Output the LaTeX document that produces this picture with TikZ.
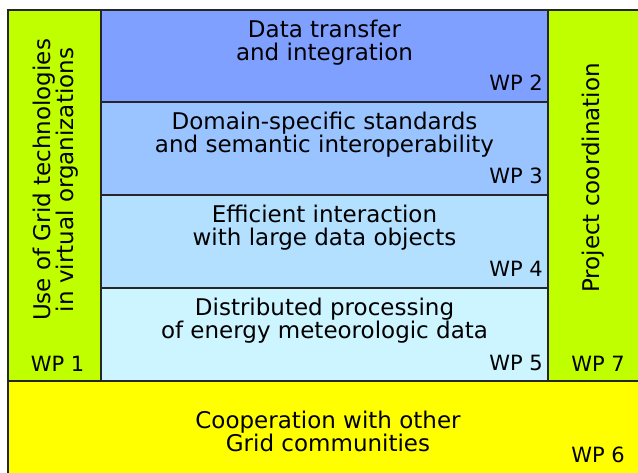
\documentclass[tikz,border=0pt]{standalone}
\usepackage{fontspec}
\setmainfont{DejaVu Sans}
\definecolor{wpgreen}{RGB}{191,255,0}
\definecolor{wpyellow}{RGB}{255,255,0}
\definecolor{wpblueA}{RGB}{128,160,255}
\definecolor{wpblueB}{RGB}{153,196,255}
\definecolor{wpblueC}{RGB}{179,224,255}
\definecolor{wpblueD}{RGB}{204,245,255}
\tikzset{
        box/.style={draw=black!85, line width=2pt, rectangle, inner sep=0pt},
        title/.style={align=center, inner sep=0pt, font=\fontsize{23}{23}\selectfont},
        wp/.style={inner sep=0pt, font=\fontsize{21}{23}\selectfont}
    }

\begin{document}
\begin{tikzpicture}[x=1pt, y=1pt]
            \useasboundingbox (0,0) rectangle (638,472);
            \fill [white] (0,0) rectangle (638,472);

            \node [box, fill=wpgreen, minimum width=93, minimum height=371] (wp1) at (54.5, 276.5) {};
            \node [box, fill=wpblueA, minimum width=447, minimum height=92] (wp2) at (324.5, 416) {};
            \node [box, fill=wpblueB, minimum width=447, minimum height=93] (wp3) at (324.5, 323.5) {};
            \node [box, fill=wpblueC, minimum width=447, minimum height=93] (wp4) at (324.5, 230.5) {};
            \node [box, fill=wpblueD, minimum width=447, minimum height=93] (wp5) at (324.5, 137.5) {};
            \node [box, fill=wpgreen, minimum width=100, minimum height=371] (wp7) at (598, 276.5) {};
            \node [box, fill=wpyellow, minimum width=640, minimum height=100] (wp6) at (328, 41) {};

            \node [title, rotate=90] (t1) at (56, 292) {Use of Grid technologies\\in virtual organizations};
            \node [title] (t2) at (324.5, 429) {Data transfer\\and integration};
            \node [title] (t3) at (324.5, 337) {Domain-specific standards\\and semantic interoperability};
            \node [title] (t4) at (324.5, 244) {Efficient interaction\\with large data objects};
            \node [title] (t5) at (324.5, 151) {Distributed processing\\of energy meteorologic data};
            \node [title, rotate=90] (t7) at (593, 294) {Project coordination};
            \node [title] (t6) at (328, 41) {Cooperation with other\\Grid communities};

            \node [wp, anchor=base] (l1) at (57.5, 100) {WP 1};
            \node [wp, anchor=base east] (l2) at (543, 381) {WP 2};
            \node [wp, anchor=base east] (l3) at (543, 288) {WP 3};
            \node [wp, anchor=base east] (l4) at (543, 195) {WP 4};
            \node [wp, anchor=base east] (l5) at (543, 101) {WP 5};
            \node [wp, anchor=base] (l7) at (598, 100) {WP 7};
            \node [wp, anchor=base] (l6) at (598, 10) {WP 6};
        \end{tikzpicture}
\end{document}
